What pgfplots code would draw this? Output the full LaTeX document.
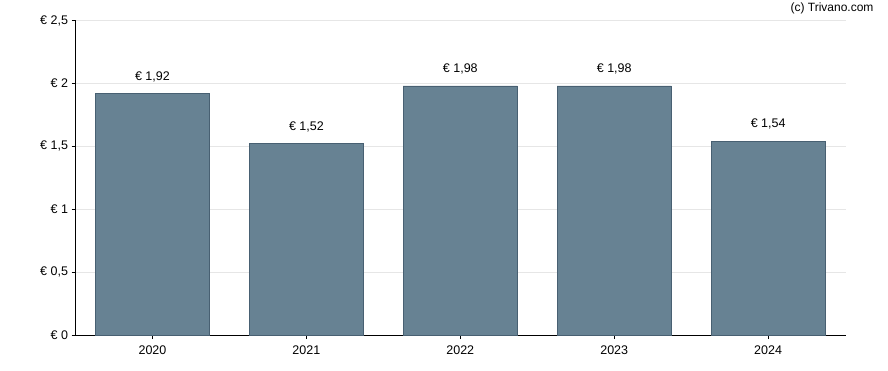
\documentclass[border=0pt]{standalone}
\usepackage{pgfplots}
\pgfplotsset{compat=1.18}
\usepackage{fontspec}
\setmainfont{Liberation Sans}
\definecolor{barfill}{RGB}{103,130,147}
\definecolor{baredge}{RGB}{72,96,114}
\definecolor{gridc}{RGB}{230,230,230}
\begin{document}
\begin{tikzpicture}[x=1bp,y=1bp]
\useasboundingbox (0,0) rectangle (888,370);
\begin{axis}[
  at={(75.5bp,35bp)}, anchor=south west,
  scale only axis, width=770.5bp, height=314.5bp,
  xmin=-0.5, xmax=4.506, ymin=0, ymax=2.5,
  axis x line*=bottom, axis y line*=left,
  axis line style={-, black, line width=0.9bp},
  xtick={0,1,2,3,4}, xticklabels={2020,2021,2022,2023,2024},
  ytick={0,0.5,1,1.5,2,2.5},
  yticklabel={€ \pgfmathprintnumber[use comma]{\tick}},
  /pgf/number format/assume math mode=true,
  tick align=outside, major tick length=4bp,
  tick style={black, line width=0.9bp},
  ymajorgrids, grid style={gridc, line width=0.8bp},
  ticklabel style={font=\fontsize{12.5bp}{14bp}\selectfont},
  xticklabel style={yshift=-3bp},
  ybar, bar width=0.742,
  nodes near coords={€ \pgfmathprintnumber[use comma,fixed,fixed zerofill,precision=2]{\pgfplotspointmeta}},
  nodes near coords style={font=\fontsize{12.5bp}{14bp}\selectfont, yshift=8bp},
  clip=false,
]
\addplot[fill=barfill, draw=baredge, line width=0.8bp] coordinates {(0,1.92) (1,1.52) (2,1.98) (3,1.98) (4,1.54)};
\end{axis}
\node[anchor=east, font=\fontsize{12bp}{13bp}\selectfont] at (877,362) {(c) Trivano.com};
\end{tikzpicture}
\end{document}
